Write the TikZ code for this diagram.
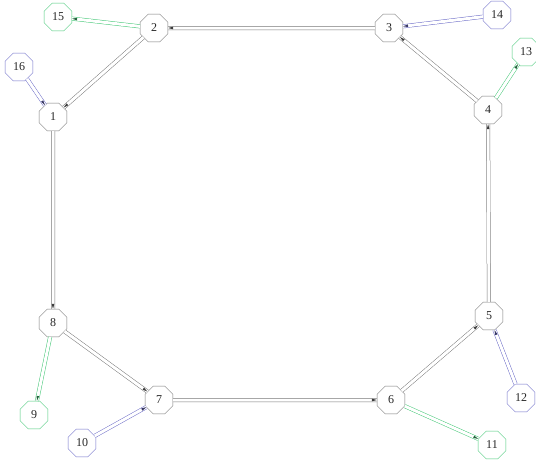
\documentclass[tikz,border=0pt]{standalone}
\usepackage{fontspec}
\setmainfont{Liberation Serif}
\usetikzlibrary{shapes.geometric,decorations.markings}
\definecolor{ringc}{RGB}{120,120,120}
\definecolor{outc}{RGB}{70,200,120}
\definecolor{inc}{RGB}{110,110,200}
\begin{document}
\begin{tikzpicture}[x=1pt,y=-1pt,
  oct/.style={regular polygon,regular polygon sides=8,draw=#1,minimum size=30pt,
              inner sep=0pt,text=black!85,font=\fontsize{12}{12}\selectfont},
  oct/.default=ringc,
  pipe/.style={draw=#1,double,double distance=3pt,line width=.5pt,
               postaction={decorate},
               decoration={markings,mark=at position 1 with
                 {\fill[#1!50!black] (0,0) -- (-5pt,1.3pt) -- (-5pt,-1.3pt) -- cycle;}}},
  pipe/.default=ringc]
  \useasboundingbox (0,0) rectangle (536,461);
  % ring
  \node[oct] (n1) at (53,117) {1};
  \node[oct] (n2) at (154,28) {2};
  \node[oct] (n3) at (389,28) {3};
  \node[oct] (n4) at (488,110) {4};
  \node[oct] (n5) at (489,316) {5};
  \node[oct] (n6) at (391,400) {6};
  \node[oct] (n7) at (159,400) {7};
  \node[oct] (n8) at (53,323) {8};
  % outer
  \node[oct=outc] (n9) at (34,415) {9};
  \node[oct=inc] (n10) at (82,443) {10};
  \node[oct=outc] (n11) at (492,445) {11};
  \node[oct=inc] (n12) at (521,398) {12};
  \node[oct=outc] (n13) at (526,52) {13};
  \node[oct=inc] (n14) at (497,15) {14};
  \node[oct=outc] (n15) at (58,17) {15};
  \node[oct=inc] (n16) at (19,67) {16};
  \foreach \a/\b in {n2/n1,n1/n8,n8/n7,n7/n6,n6/n5,n5/n4,n4/n3,n3/n2}
    \draw[pipe] (\a) -- (\b);
  \foreach \a/\b in {n2/n15,n4/n13,n6/n11,n8/n9}
    \draw[pipe=outc] (\a) -- (\b);
  \foreach \a/\b in {n14/n3,n12/n5,n10/n7,n16/n1}
    \draw[pipe=inc] (\a) -- (\b);
\end{tikzpicture}
\end{document}
